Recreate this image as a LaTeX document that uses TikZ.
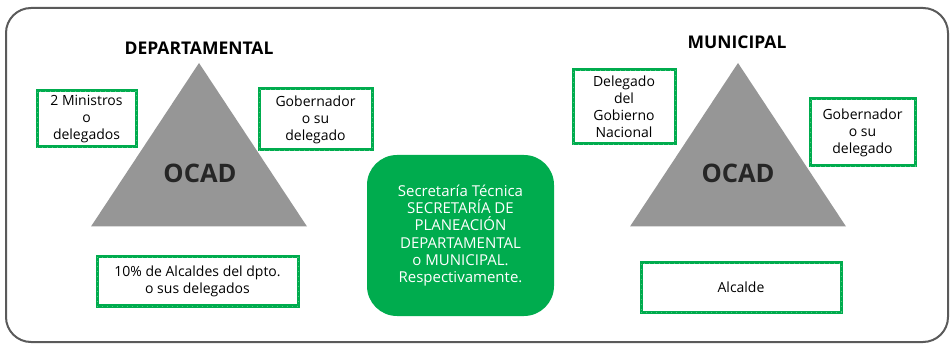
\documentclass[tikz,border=0pt]{standalone}
\usepackage{fontspec}
\setmainfont{Open Sans}
\usepackage{tikz}

\definecolor{ocadgreen}{RGB}{0,172,78}
\definecolor{ocadgray}{RGB}{150,150,150}
\definecolor{framegray}{RGB}{90,90,90}

\tikzset{
	vocal/.style={draw=ocadgreen, line width=3pt, inner sep=0pt, align=center,
		font=\fontsize{14}{17}\selectfont,
		postaction={draw=white, line width=0.4pt, dash pattern=on 1pt off 4pt, opacity=0.3}},
	titulo/.style={font=\fontsize{17.5}{20}\selectfont\bfseries},
	ocad/.style={font=\fontsize{25.5}{30}\selectfont\bfseries, text=black!85}
}

\begin{document}
\begin{tikzpicture}[x=1pt, y=-1pt]
			\useasboundingbox (0, 0) rectangle (952, 344);
			% marco
			\draw[framegray, line width=2pt, rounded corners=25pt] (6, 8) rectangle (948, 342);
			% triangulos
			\foreach \cx in {199, 738}
				\fill[ocadgray] (\cx, 63) -- (\cx - 108, 226.5) -- (\cx + 108, 226.5) -- cycle;
			% departamental
			\node[titulo] (dep) at (199, 48) {DEPARTAMENTAL};
			\node[ocad] (ocad1) at (200, 173) {OCAD};
			\node[vocal, minimum width=99pt, minimum height=56pt] (min1) at (86.5, 119) {2 Ministros\\o\\delegados};
			\node[vocal, minimum width=113pt, minimum height=61pt] (gob1) at (315.5, 119.5) {Gobernador\\o su\\delegado};
			\node[vocal, minimum width=201pt, minimum height=49pt] (alc1) at (197.5, 281.5) {10\% de Alcaldes del dpto.\\o sus delegados};
			% secretaria
			\node[fill=ocadgreen, rounded corners=30pt, minimum width=187pt, minimum height=161pt,
				text=white, align=center, font=\fontsize{15}{17.2}\selectfont] (sec) at (460.5, 235.5)
				{Secretaría Técnica\\ SECRETARÍA DE\\PLANEACIÓN\\DEPARTAMENTAL\\ o MUNICIPAL.\\Respectivamente.};
			% municipal
			\node[titulo] (mun) at (737, 42) {MUNICIPAL};
			\node[ocad] (ocad2) at (738, 173) {OCAD};
			\node[vocal, minimum width=102pt, minimum height=74pt] (del2) at (624, 107) {Delegado\\del\\Gobierno\\Nacional};
			\node[vocal, minimum width=105pt, minimum height=67pt] (gob2) at (862.5, 132.5) {Gobernador\\o su\\delegado};
			\node[vocal, minimum width=200pt, minimum height=49pt] (alc2) at (741, 287.5) {Alcalde};
		\end{tikzpicture}
\end{document}
